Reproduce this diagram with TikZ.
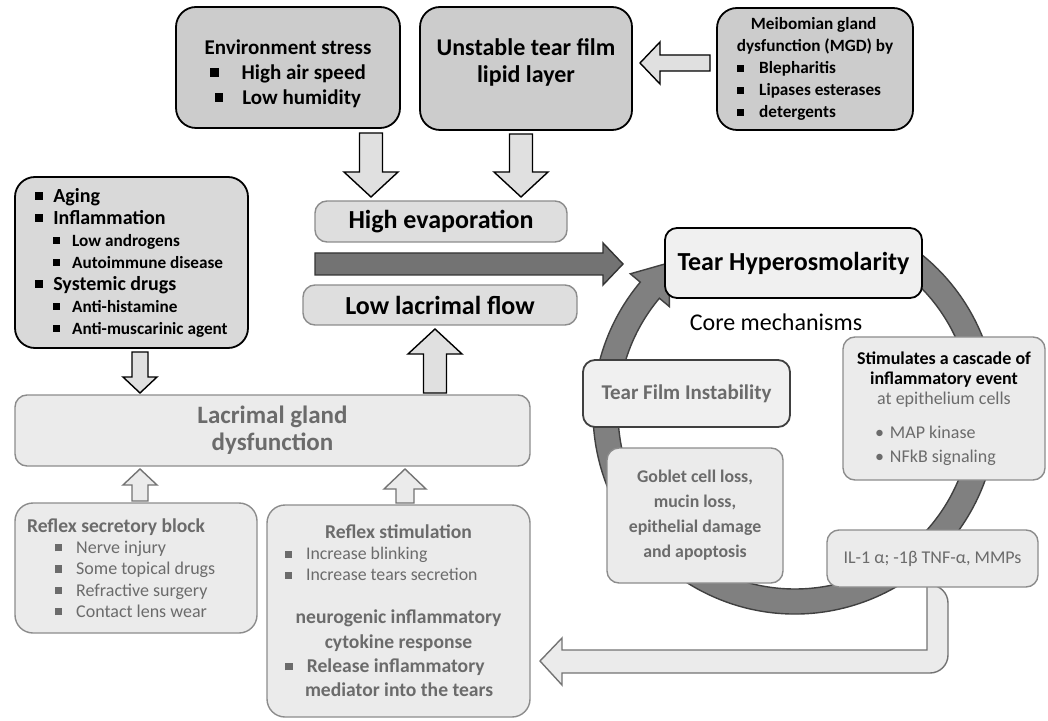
\documentclass[tikz,border=0pt]{standalone}
\usepackage{fontspec}
\setmainfont{Carlito}
\usetikzlibrary{calc}
\setlength{\parindent}{0pt}
\definecolor{txtgray}{gray}{0.42}
\newcommand{\sqb}{\rule[0.12em]{0.4em}{0.4em}}
\newcommand{\fsz}[2]{\fontsize{#1}{#2}\selectfont}
% style, from, to, body half width, head half width, head length
\newcommand{\blkarrow}[6]{%
  \coordinate (tmpN) at ($(#3)!#6!(#2)$);
  \path[#1] ($(#2)!#4!90:(#3)$) -- ($(tmpN)!#4!90:(#3)$) -- ($(tmpN)!#5!90:(#3)$) -- (#3)
    -- ($(tmpN)!#5!-90:(#3)$) -- ($(tmpN)!#4!-90:(#3)$) -- ($(#2)!#4!-90:(#3)$) -- cycle;}
\begin{document}
\begin{tikzpicture}[x=0.5pt,y=-0.5pt,
  box/.style={rounded corners=6pt, line width=0.7pt, inner sep=0pt, align=center},
  topbox/.style={box, rounded corners=10pt, draw=black, fill=black!20, line width=0.9pt},
  lightbox/.style={box, draw=black!45, fill=black!8, text=txtgray},
  hollow/.style={draw=black, fill=black!12, line width=0.7pt, line join=miter},
  hollowg/.style={draw=black!55, fill=black!8, line width=0.7pt, line join=miter},
  ringstyle/.style={draw=black!75, fill=black!50, line width=0.7pt},
  bigarrow/.style={draw=black!80, fill=black!55, line width=0.7pt, line join=miter}]
\useasboundingbox (0,0) rectangle (1048,721);

% ---------- core cycle ring ----------
\coordinate (C) at (795,412);
\path[ringstyle] ($(C)+(-65:202)$) arc[start angle=-65, end angle=220, radius=202]
  -- ($(C)+(220:215)$) -- ($(C)+(230:195)$) -- ($(C)+(220:164)$) -- ($(C)+(220:177)$)
  arc[start angle=220, end angle=-65, radius=177] -- cycle;

% ---------- L-shaped feedback arrow ----------
\path[hollowg] (927,585) -- (927,650) -- (562,650) -- (562,638) -- (540,661) -- (562,685)
  -- (562,673) {[rounded corners=9pt] -- (948,673) -- (948,585)} -- cycle;

% ---------- top row ----------
\node[topbox, minimum width=112pt, minimum height=60.5pt, font=\fsz{10.5}{12.5}\bfseries] (env) at (288,67.5)
  {Environment stress\\\sqb\hspace{1.1em}High air speed\\\sqb\hspace{0.9em}Low humidity\\[-17pt]};
\node[topbox, minimum width=106pt, minimum height=61.5pt, font=\fsz{12}{13.5}\bfseries] (unst) at (526,68.5)
  {Unstable tear film\\lipid layer\\[-5.5pt]};
\node[topbox, minimum width=98pt, minimum height=61pt, align=left, font=\fsz{8.6}{11}\bfseries] (mgd) at (815,69)
  {\hspace*{7pt}Meibomian gland\\dysfunction (MGD) by\\\sqb\hspace{0.9em}Blepharitis\\\sqb\hspace{0.9em}Lipases esterases\\\sqb\hspace{0.9em}detergents};

% ---------- left causes ----------
\node[box, draw=black, fill=black!15, line width=0.9pt, rounded corners=10pt, minimum width=116.5pt, minimum height=85.5pt,
  align=left, font=\fsz{10}{11}\bfseries] (aging) at (131.5,262.5)
  {\sqb\hspace{5pt}Aging\\
   \sqb\hspace{5pt}Inflammation\\
   \hspace*{9pt}{\fsz{8.6}{11}\sqb\hspace{6pt}Low androgens}\\
   \hspace*{9pt}{\fsz{8.6}{11}\sqb\hspace{6pt}Autoimmune disease}\\
   \sqb\hspace{5pt}Systemic drugs\\
   \hspace*{9pt}{\fsz{8.6}{11}\sqb\hspace{6pt}Anti-histamine}\\
   \hspace*{9pt}{\fsz{8.6}{11}\sqb\hspace{6pt}Anti-muscarinic agent}};

% ---------- middle ----------
\node[box, draw=black!45, fill=black!13, minimum width=126pt, minimum height=20.5pt, font=\fsz{13}{15}\bfseries] (hevap) at (441,221.5) {High evaporation};
\node[box, draw=black!45, fill=black!13, minimum width=137pt, minimum height=20pt, font=\fsz{13}{15}\bfseries] (llf) at (440,305) {Low lacrimal flow};

\node[lightbox, minimum width=257.5pt, minimum height=35.5pt, font=\fsz{12.5}{13.5}\bfseries] (lgd) at (272.5,430.5)
  {Lacrimal gland\\dysfunction};

\node[lightbox, rounded corners=9pt, minimum width=121pt, minimum height=65pt, inner xsep=6pt, text width=109pt, align=flush left,
  font=\fsz{9.8}{10.6}\bfseries] (rsb) at (136,568)
  {Reflex secretory block\\
   {\fsz{9}{10.6}\mdseries\hspace*{14pt}\sqb\hspace{7pt}Nerve injury}\\
   {\fsz{9}{10.6}\mdseries\hspace*{14pt}\sqb\hspace{7pt}Some topical drugs}\\
   {\fsz{9}{10.6}\mdseries\hspace*{14pt}\sqb\hspace{7pt}Refractive surgery}\\
   {\fsz{9}{10.6}\mdseries\hspace*{14pt}\sqb\hspace{7pt}Contact lens wear}};

\node[lightbox, rounded corners=9pt, minimum width=131.5pt, minimum height=106pt, inner xsep=9pt, text width=113.5pt, align=none] (rst) at (398.5,611)
  {{\centering\bfseries\fsz{9.8}{11.5}Reflex stimulation\par}
   {\raggedright\fsz{8.9}{10.5}\sqb\hspace{7pt}Increase blinking\\\sqb\hspace{7pt}Increase tears secretion\par}
   \vspace{9pt}
   {\centering\bfseries\fsz{9.8}{12.5}neurogenic inflammatory\\cytokine response\par}
   {\raggedright\bfseries\fsz{9.8}{12}\sqb\hspace{7pt}Release inflammatory\\\hspace*{10pt}mediator into the tears\par}};

% ---------- cycle boxes ----------
\node[box, draw=black, fill=black!6, line width=0.9pt, minimum width=128.5pt, minimum height=35pt, font=\fsz{13}{15}\bfseries] (th) at (793.5,263) {Tear Hyperosmolarity};
\node[font=\fsz{12}{14}] (core) at (776,322) {Core mechanisms};
\node[box, draw=black!75, fill=black!6, line width=0.9pt, text=txtgray, minimum width=103.5pt, minimum height=33.5pt, font=\fsz{10.5}{12}\bfseries] (tfi) at (686.5,393.5) {Tear Film Instability};
\node[box, draw=black!45, fill=black!8, minimum width=101pt, minimum height=71.5pt, inner xsep=4pt, text width=93pt, align=none] (stim) at (944,408.5)
  {{\centering\bfseries\fsz{9}{10}Stimulates a cascade of\\inflammatory event\par}
   {\centering\color{txtgray}\fsz{9}{10}at epithelium cells\par}
   \vspace{5pt}
   {\color{txtgray}\fsz{9}{12}\hspace*{12pt}\textbullet\hspace{3pt}MAP kinase\\\hspace*{12pt}\textbullet\hspace{3pt}NFkB signaling\par}};
\node[lightbox, minimum width=88pt, minimum height=67.5pt, font=\fsz{8.9}{12.5}\bfseries] (gob) at (695,515.5)
  {Goblet cell loss,\\mucin loss,\\epithelial damage\\and apoptosis};
\node[lightbox, minimum width=105.5pt, minimum height=28.5pt, font=\fsz{9}{11}] (il) at (932.5,558.5) {IL-1 α; -1β TNF-α, MMPs};

% ---------- block arrows ----------
\coordinate (a1s) at (371,133); \coordinate (a1e) at (371,197);
\coordinate (a2s) at (521,134); \coordinate (a2e) at (521,197);
\coordinate (a3s) at (710,63);  \coordinate (a3e) at (640,63);
\coordinate (a4s) at (315,264); \coordinate (a4e) at (623,264);
\coordinate (a5s) at (435,393); \coordinate (a5e) at (435,329);
\coordinate (a6s) at (140,352); \coordinate (a6e) at (140,393);
\coordinate (a7s) at (140,501); \coordinate (a7e) at (140,469);
\coordinate (a8s) at (405,503); \coordinate (a8e) at (405,469);
\blkarrow{hollow}{a1s}{a1e}{5.75pt}{13.5pt}{12.5pt}
\blkarrow{hollow}{a2s}{a2e}{5.75pt}{13.5pt}{12.5pt}
\blkarrow{hollow}{a3s}{a3e}{4pt}{10.5pt}{10pt}
\blkarrow{bigarrow}{a4s}{a4e}{5.5pt}{10.5pt}{10pt}
\blkarrow{hollow}{a5s}{a5e}{5.75pt}{13.5pt}{12.5pt}
\blkarrow{hollow}{a6s}{a6e}{4pt}{8.5pt}{8pt}
\blkarrow{hollowg}{a7s}{a7e}{4pt}{8.5pt}{8pt}
\blkarrow{hollowg}{a8s}{a8e}{4.5pt}{10.5pt}{10pt}
\end{tikzpicture}
\end{document}
